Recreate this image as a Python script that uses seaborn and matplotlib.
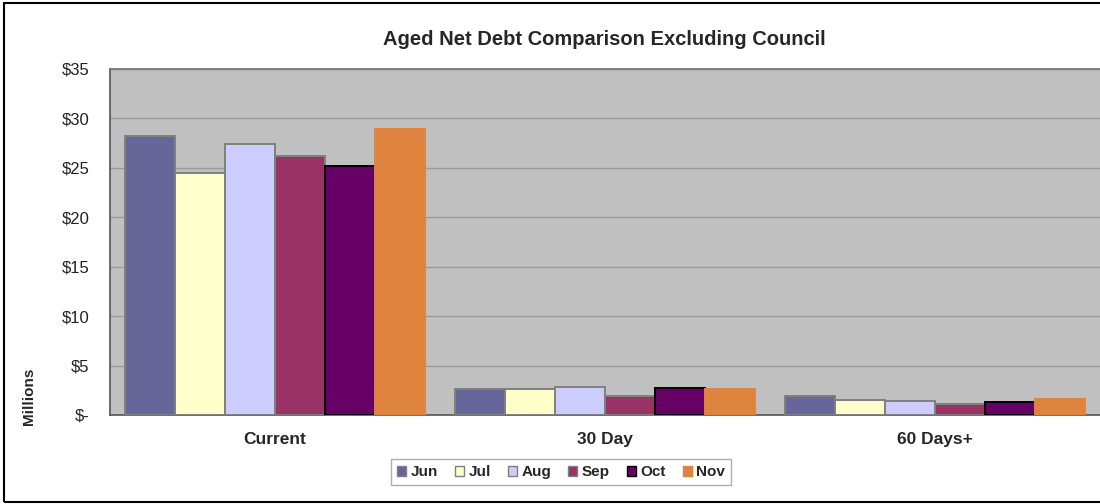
import numpy as np
import pandas as pd
import matplotlib
matplotlib.use("Agg")
import matplotlib.pyplot as plt
import seaborn as sns
from matplotlib.patches import Rectangle

# Data (millions of dollars)
categories = ["Current", "30 Day", "60 Days+"]
months = ["Jun", "Jul", "Aug", "Sep", "Oct", "Nov"]
jun = [28.2, 2.65, 1.95]
jul = [24.5, 2.6, 1.5]
aug = [27.4, 2.8, 1.45]
sep = [26.2, 1.9, 1.1]
oct_ = [25.2, 2.75, 1.35]
nov = [28.9, 2.65, 1.65]
y_ticks = [0, 5, 10, 15, 20, 25, 30, 35]
y_tick_labels = ["$-", "$5", "$10", "$15", "$20", "$25", "$30", "$35"]

fill_colors = ["#666699", "#FFFFCC", "#CCCCFF", "#993366", "#660066", "#DE843F"]
edge_colors = ["#808080", "#808080", "#808080", "#808080", "#000000", "#DE843F"]

series = [jun, jul, aug, sep, oct_, nov]
rows = []
for m, vals in zip(months, series):
    for c, v in zip(categories, vals):
        rows.append({"Category": c, "Month": m, "Value": v})
df = pd.DataFrame(rows)

sns.set_style("white")
plt.rcParams["font.family"] = ["Liberation Sans", "DejaVu Sans"]

fig = plt.figure(figsize=(11, 5.04), dpi=100)
ax = fig.add_axes([0.1, 0.1766, 0.9, 0.6865])
ax.set_facecolor("#C0C0C0")

sns.barplot(data=df, x="Category", y="Value", hue="Month", order=categories,
            hue_order=months, palette=dict(zip(months, fill_colors)),
            width=0.91, gap=0, saturation=1, ax=ax, legend=True)

for cont, ec in zip(ax.containers, edge_colors):
    for p in cont.patches:
        p.set_edgecolor(ec)
        p.set_linewidth(1.4)
        p.set_zorder(3)

ax.set_ylim(0, 35)
ax.set_xlim(-0.5, 2.5)
ax.set_yticks(y_ticks)
ax.set_yticklabels(y_tick_labels, fontsize=12, color="#222222")
ax.yaxis.grid(True, color="#9A9A9A", linewidth=1)
ax.set_axisbelow(True)
ax.set_xticks([0, 1, 2])
ax.set_xticklabels(categories, fontsize=12.5, fontweight="bold")
ax.set_xticks([0.5, 1.5], minor=True)
ax.tick_params(axis="x", which="major", length=0, pad=12)
ax.tick_params(axis="x", which="minor", length=5, color="#333333", direction="out")
ax.tick_params(axis="y", length=5, color="#555555", direction="out", pad=10)
ax.set_xlabel("")
ax.set_ylabel("Millions", fontsize=11, fontweight="bold")
ax.yaxis.set_label_coords(-0.075, 0.055)

for s in ["left", "bottom"]:
    ax.spines[s].set_color("#555555")
    ax.spines[s].set_linewidth(1.2)
ax.spines["top"].set_color("#707070")
ax.spines["top"].set_linewidth(1.2)
ax.spines["right"].set_visible(False)

fig.text(0.549, 0.922, "Aged Net Debt Comparison Excluding Council",
         ha="center", va="center", fontsize=14.5, fontweight="bold")

handles, labels = ax.get_legend_handles_labels()
ax.legend_.remove()
leg = fig.legend(handles, labels, loc="center", bbox_to_anchor=(0.51, 0.063),
                 ncol=6, frameon=True, fancybox=False, edgecolor="#999999",
                 handlelength=0.6, handleheight=0.6, handletextpad=0.3,
                 columnspacing=1.1, borderpad=0.4,
                 prop={"weight": "bold", "size": 11})
for h, ec in zip(leg.legend_handles, edge_colors):
    h.set_edgecolor(ec)

fig.patches.append(Rectangle((0.0035, 0.004), 1.2, 0.99, transform=fig.transFigure,
                             fill=False, edgecolor="black", linewidth=1.5))

fig.savefig("out.png", dpi=100)
